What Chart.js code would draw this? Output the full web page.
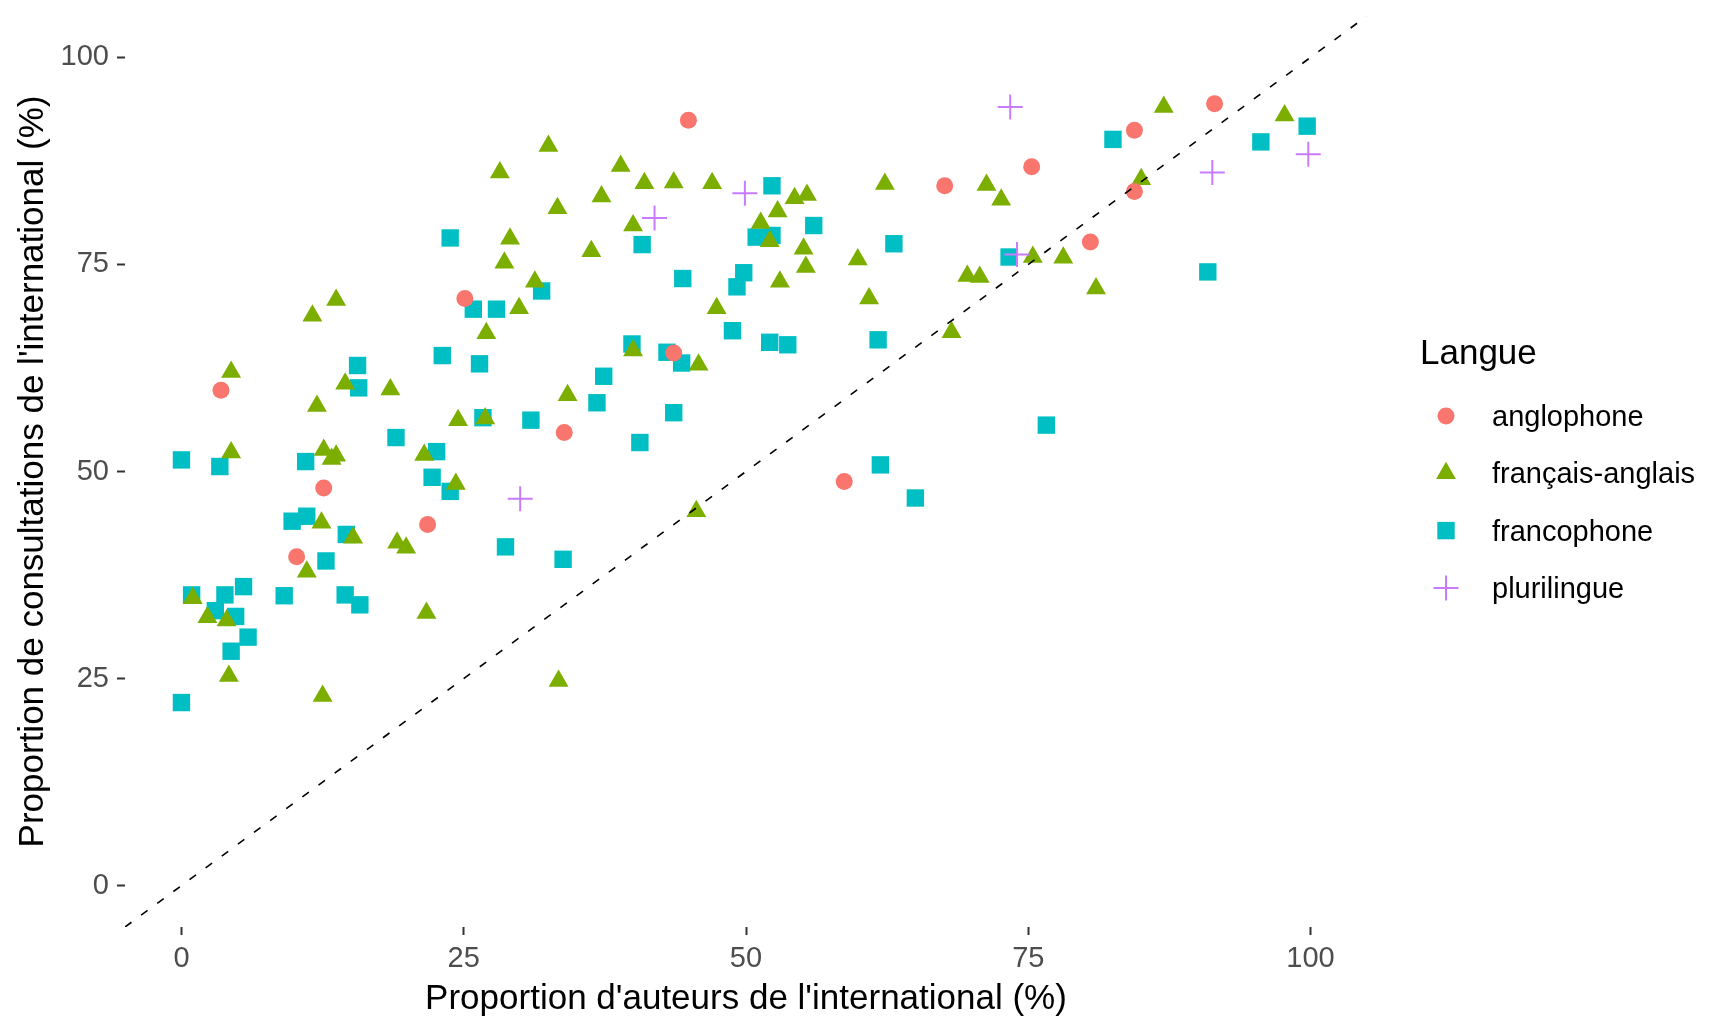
<!DOCTYPE html>
<html>
<head>
<meta charset="utf-8">
<script src="https://cdn.jsdelivr.net/npm/chart.js"></script>
<style>
  html, body { margin: 0; padding: 0; background: #fff; }
  canvas { display: block; }
</style>
</head>
<body>
<canvas id="chart" width="1713" height="1017"></canvas>
<script>
// axis ticks and labels
const xTicks = [0, 25, 50, 75, 100];
const yTicks = [0, 25, 50, 75, 100];
const xTitle = "Proportion d'auteurs de l'international (%)";
const yTitle = "Proportion de consultations de l'international (%)";
const legendTitle = 'Langue';
const categories = ['anglophone', 'français-anglais', 'francophone', 'plurilingue'];

// y = x reference line, end points
const diagonal = [-5, 105];

// anglophone
const angloX = [3.5, 12.6, 10.2, 21.8, 25.1, 33.9, 44.9, 43.6, 58.7, 67.6, 75.3, 80.5, 84.4, 84.4, 91.5];
const angloY = [59.8, 48.0, 39.7, 43.6, 70.9, 54.7, 92.4, 64.3, 48.8, 84.5, 86.8, 77.7, 91.2, 83.8, 94.4];

// français-anglais
const bilingX = [32.5, 28.2, 29.1, 28.6, 31.3, 29.9, 27.0, 13.7, 11.6, 38.9, 41.0, 43.6, 47.0, 62.3, 37.2, 33.3,
  54.3, 55.4, 52.8, 51.3, 52.1, 40.0, 36.3, 55.1, 55.3, 53.0, 59.9, 60.9, 47.4, 69.6, 70.7, 68.2,
  87.0, 97.7, 71.3, 72.6, 85.0, 75.4, 78.1, 81.0, 40.0, 45.8, 34.2, 45.6, 4.4, 14.5, 18.5, 12.0,
  24.5, 26.9, 4.4, 12.6, 13.3, 13.7, 21.5, 24.3, 12.4, 15.2, 19.1, 19.9, 11.1, 21.7, 1.0, 2.3,
  4.0, 4.2, 12.5, 33.4];
const bilingY = [89.3, 86.1, 78.1, 75.2, 72.9, 69.7, 66.7, 70.7, 68.8, 86.9, 84.8, 84.9, 84.8, 84.7, 83.2, 81.8,
  83.0, 83.4, 81.4, 80.0, 77.8, 79.7, 76.6, 76.9, 74.7, 72.9, 75.6, 70.9, 69.7, 73.6, 73.5, 66.8,
  94.0, 93.0, 84.6, 82.8, 85.3, 75.9, 75.8, 72.1, 64.6, 62.9, 59.2, 45.2, 62.0, 60.6, 59.9, 57.9,
  56.2, 56.4, 52.3, 52.6, 51.5, 51.9, 52.0, 48.5, 43.8, 42.0, 41.4, 40.8, 37.9, 32.9, 34.7, 32.4,
  32.0, 25.3, 22.9, 24.7];

// francophone
const francoX = [23.8, 25.85, 27.9, 31.9, 52.3, 56.0, 50.9, 52.3, 63.1, 40.8, 44.4, 49.8, 49.2, 48.8, 39.9, 43.0,
  44.3, 52.1, 53.7, 61.7, 37.4, 36.8, 43.6, 40.6, 61.9, 65.0, 33.8, 76.6, 82.5, 99.7, 95.6, 73.3,
  90.9, 15.6, 15.7, 23.1, 26.4, 26.7, 30.95, 19.0, 22.6, 22.2, 23.8, 0.0, 3.4, 11.0, 9.8, 11.1,
  14.6, 12.8, 28.7, 9.1, 14.5, 15.8, 0.9, 3.85, 5.5, 3.0, 4.8, 5.9, 4.4, 0.0];
const francoY = [78.2, 69.6, 69.6, 71.8, 84.5, 79.7, 78.3, 78.5, 77.5, 77.4, 73.3, 74.0, 72.3, 67.0, 65.4, 64.4,
  63.1, 65.6, 65.3, 65.9, 61.5, 58.3, 57.1, 53.5, 50.8, 46.8, 39.4, 55.6, 90.1, 91.7, 89.8, 75.9,
  74.1, 62.8, 60.1, 64.0, 63.0, 56.5, 56.2, 54.1, 52.4, 49.3, 47.6, 51.4, 50.6, 51.2, 44.0, 44.6,
  42.4, 39.2, 40.9, 35.0, 35.1, 33.9, 35.1, 35.1, 36.1, 33.2, 32.5, 30.0, 28.3, 22.1];

// plurilingue
const pluriX = [30.0, 41.9, 49.9, 73.4, 74.0, 91.3, 99.8];
const pluriY = [46.7, 80.6, 83.6, 94.0, 76.2, 86.1, 88.3];

const FONT = "'Liberation Sans', Arial, sans-serif";

function toPoints(xs, ys) {
    return xs.map((x, i) => ({ x: x, y: ys[i] }));
}

const datasets = [
    {
        label: categories[0], data: toPoints(angloX, angloY), order: 1, inLegend: true,
        pointStyle: 'circle', pointRadius: 8.5, pointBorderWidth: 0,
        backgroundColor: '#F8766D', borderColor: '#F8766D',
    },
    {
        label: categories[1], data: toPoints(bilingX, bilingY), order: 2, inLegend: true,
        pointStyle: 'triangle', pointRadius: 11.5, pointBorderWidth: 0,
        backgroundColor: '#7CAE00', borderColor: '#7CAE00',
    },
    {
        label: categories[2], data: toPoints(francoX, francoY), order: 3, inLegend: true,
        pointStyle: 'rect', pointRadius: 12.3, pointBorderWidth: 0,
        backgroundColor: '#00BFC4', borderColor: '#00BFC4',
    },
    {
        label: categories[3], data: toPoints(pluriX, pluriY), order: 0, inLegend: true,
        pointStyle: 'cross', pointRadius: 12.5, pointBorderWidth: 2,
        backgroundColor: '#C77CFF', borderColor: '#C77CFF',
    },
    {
        label: 'y = x', data: toPoints(diagonal, diagonal), order: -1, inLegend: false,
        showLine: true, pointRadius: 0, borderColor: '#000000', borderWidth: 1.6,
        borderDash: [8, 12], fill: false,
    },
];

// legend drawn beside the panel, ggplot style
const langueLegend = {
    id: 'langueLegend',
    afterDraw(chart) {
        const ctx = chart.ctx;
        const left = chart.chartArea.right + 53;
        ctx.save();
        ctx.textAlign = 'left';
        ctx.textBaseline = 'middle';
        ctx.fillStyle = '#000000';
        ctx.font = `35px ${FONT}`;
        ctx.fillText(legendTitle, left, 354);
        chart.data.datasets.filter(d => d.inLegend).forEach((d, i) => {
            const y = 416 + i * 57.3;
            ctx.fillStyle = d.backgroundColor;
            ctx.strokeStyle = d.borderColor;
            ctx.lineWidth = d.pointBorderWidth;
            Chart.helpers.drawPoint(ctx, {
                pointStyle: d.pointStyle, radius: d.pointRadius, rotation: 0, borderWidth: d.pointBorderWidth
            }, left + 26, y);
            ctx.fillStyle = '#000000';
            ctx.font = `29px ${FONT}`;
            ctx.fillText(d.label, left + 72, y + 2);
        });
        ctx.restore();
    }
};

function axis(ticks, title) {
    return {
        type: 'linear',
        min: -5,
        max: 105,
        afterBuildTicks: (s) => { s.ticks = ticks.map(v => ({ value: v })); },
        grid: { drawOnChartArea: false, drawTicks: true, tickLength: 8, tickWidth: 2, tickColor: '#333333' },
        border: { display: false },
        ticks: { font: { family: FONT, size: 29 }, color: '#4D4D4D', padding: 7, maxRotation: 0 },
        title: { display: true, text: title, font: { family: FONT, size: 35 }, color: '#000000' },
    };
}

const xAxis = axis(xTicks, xTitle);
xAxis.afterFit = (s) => { s.height = 90; };
xAxis.title.padding = { top: 0, bottom: -3 };

const yAxis = axis(yTicks, yTitle);
yAxis.afterFit = (s) => { s.width = 125; s.paddingTop = 0; s.paddingBottom = 0; };
yAxis.ticks.padding = 8;
yAxis.title.padding = { top: 12, bottom: 0 };

new Chart(document.getElementById('chart').getContext('2d'), {
    type: 'scatter',
    data: { datasets: datasets },
    options: {
        responsive: false,
        animation: false,
        events: [],
        layout: { padding: { top: 16, right: 346, bottom: 0, left: 0 } },
        plugins: { legend: { display: false }, tooltip: { enabled: false } },
        scales: { x: xAxis, y: yAxis },
    },
    plugins: [langueLegend],
});
</script>
</body>
</html>
